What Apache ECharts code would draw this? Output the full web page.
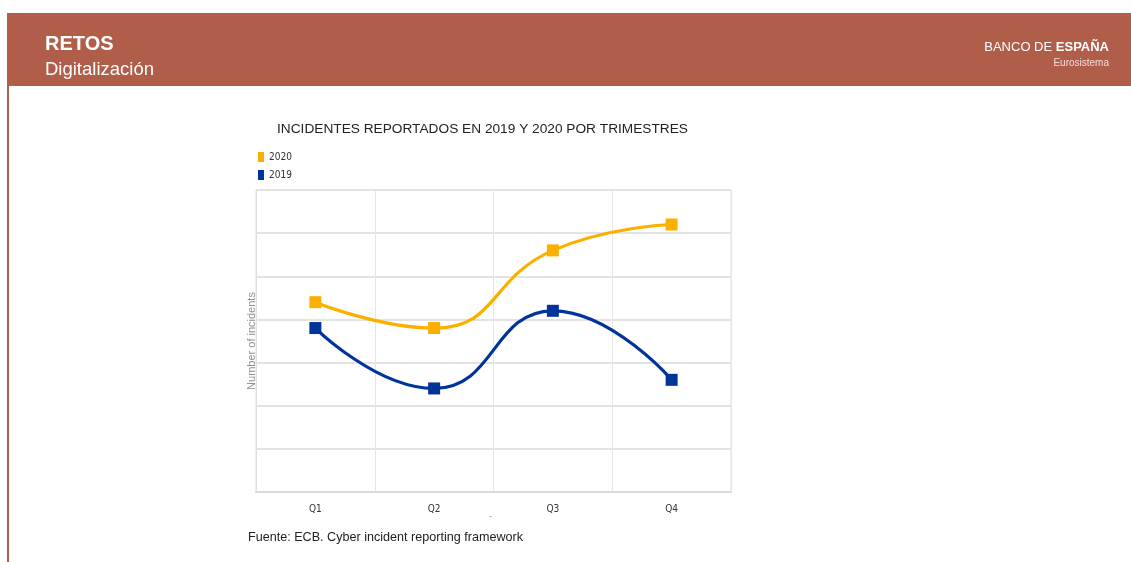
<!DOCTYPE html>
<html>
<head>
<meta charset="utf-8">
<script src="https://cdn.jsdelivr.net/npm/echarts@6/dist/echarts.min.js"></script>
<style>
html,body{margin:0;padding:0;background:#fff;}
#c{width:1131px;height:562px;}
</style>
</head>
<body>
<div id="c"></div>
<script>
const categories = ['Q1', 'Q2', 'Q3', 'Q4'];
const values2020 = [4.40, 3.80, 5.60, 6.20];
const values2019 = [3.80, 2.40, 4.20, 2.60];
const yTicks = {min: 0, max: 7, interval: 1};

const brick = '#B05D49';
const chart = echarts.init(document.getElementById('c'), null, {renderer: 'canvas'});
const narrow = '"Liberation Sans Narrow", "DejaVu Sans Condensed", sans-serif';
const sans = '"Liberation Sans", Arial, sans-serif';

chart.setOption({
  animation: false,
  backgroundColor: '#fff',
  title: {
    text: 'INCIDENTES REPORTADOS EN 2019 Y 2020 POR TRIMESTRES',
    left: 272, top: 117,
    textStyle: {fontFamily: sans, fontSize: 13.7, fontWeight: 'normal', color: '#222'}
  },
  legend: {
    orient: 'vertical', left: 253, top: 147, itemGap: 8,
    itemWidth: 6, itemHeight: 10, icon: 'rect',
    data: ['2020', '2019'],
    textStyle: {fontFamily: narrow, fontSize: 10, color: '#333'}
  },
  grid: {left: 256, top: 190, width: 475, height: 302, show: true, borderColor: '#e0e0e0', borderWidth: 1},
  xAxis: {
    type: 'category', data: categories, boundaryGap: true,
    axisLine: {show: true, lineStyle: {color: '#dadada', width: 2}},
    axisTick: {show: false},
    axisLabel: {fontFamily: narrow, fontSize: 10, color: '#333', margin: 12},
    splitLine: {show: true, lineStyle: {color: '#e6e6e6', width: 1}}
  },
  yAxis: {
    type: 'value', min: yTicks.min, max: yTicks.max, interval: yTicks.interval,
    name: 'Number of incidents', nameLocation: 'middle', nameGap: -1,
    nameTextStyle: {fontFamily: sans, fontSize: 11, color: '#8f8f8f'},
    axisLabel: {show: false}, axisTick: {show: false},
    axisLine: {show: true, lineStyle: {color: '#e0e0e0'}},
    splitLine: {show: true, lineStyle: {color: '#e3e3e3', width: 2}}
  },
  series: [
    {
      name: '2020', type: 'line', data: values2020, smooth: 0.5,
      symbol: 'rect', symbolSize: 12,
      lineStyle: {color: '#FBB000', width: 3.2},
      itemStyle: {color: '#FBB000'}
    },
    {
      name: '2019', type: 'line', data: values2019, smooth: 0.5,
      symbol: 'rect', symbolSize: 12,
      lineStyle: {color: '#00349A', width: 3.2},
      itemStyle: {color: '#00349A'}
    }
  ],
  graphic: [
    {type: 'rect', left: 7, top: 13, shape: {width: 1124, height: 73}, style: {fill: brick}, silent: true},
    {type: 'rect', left: 7, top: 86, shape: {width: 2, height: 476}, style: {fill: brick}, silent: true},
    {type: 'text', left: 45, top: 34, style: {text: 'RETOS', fill: '#fff', font: 'bold 20px ' + sans}},
    {type: 'text', left: 45, top: 60, style: {text: 'Digitalización', fill: '#fff', font: '18.5px ' + sans}},
    {type: 'text', right: 22, top: 41, style: {
      text: '{l|BANCO DE }{b|ESPAÑA}',
      rich: {
        l: {fill: '#fff', fontFamily: sans, fontSize: 13, fontWeight: 'normal'},
        b: {fill: '#fff', fontFamily: sans, fontSize: 13, fontWeight: 'bold'}
      }
    }},
    {type: 'text', right: 22, top: 58, style: {text: 'Eurosistema', fill: '#f3ddd6', font: '10px ' + sans}},
    {type: 'text', left: 489, top: 512, style: {text: '-', fill: '#999', font: '9px ' + sans}},
    {type: 'text', left: 248, top: 531, style: {text: 'Fuente: ECB. Cyber incident reporting framework', fill: '#222', font: '12.6px ' + sans}}
  ]
});
</script>
</body>
</html>
